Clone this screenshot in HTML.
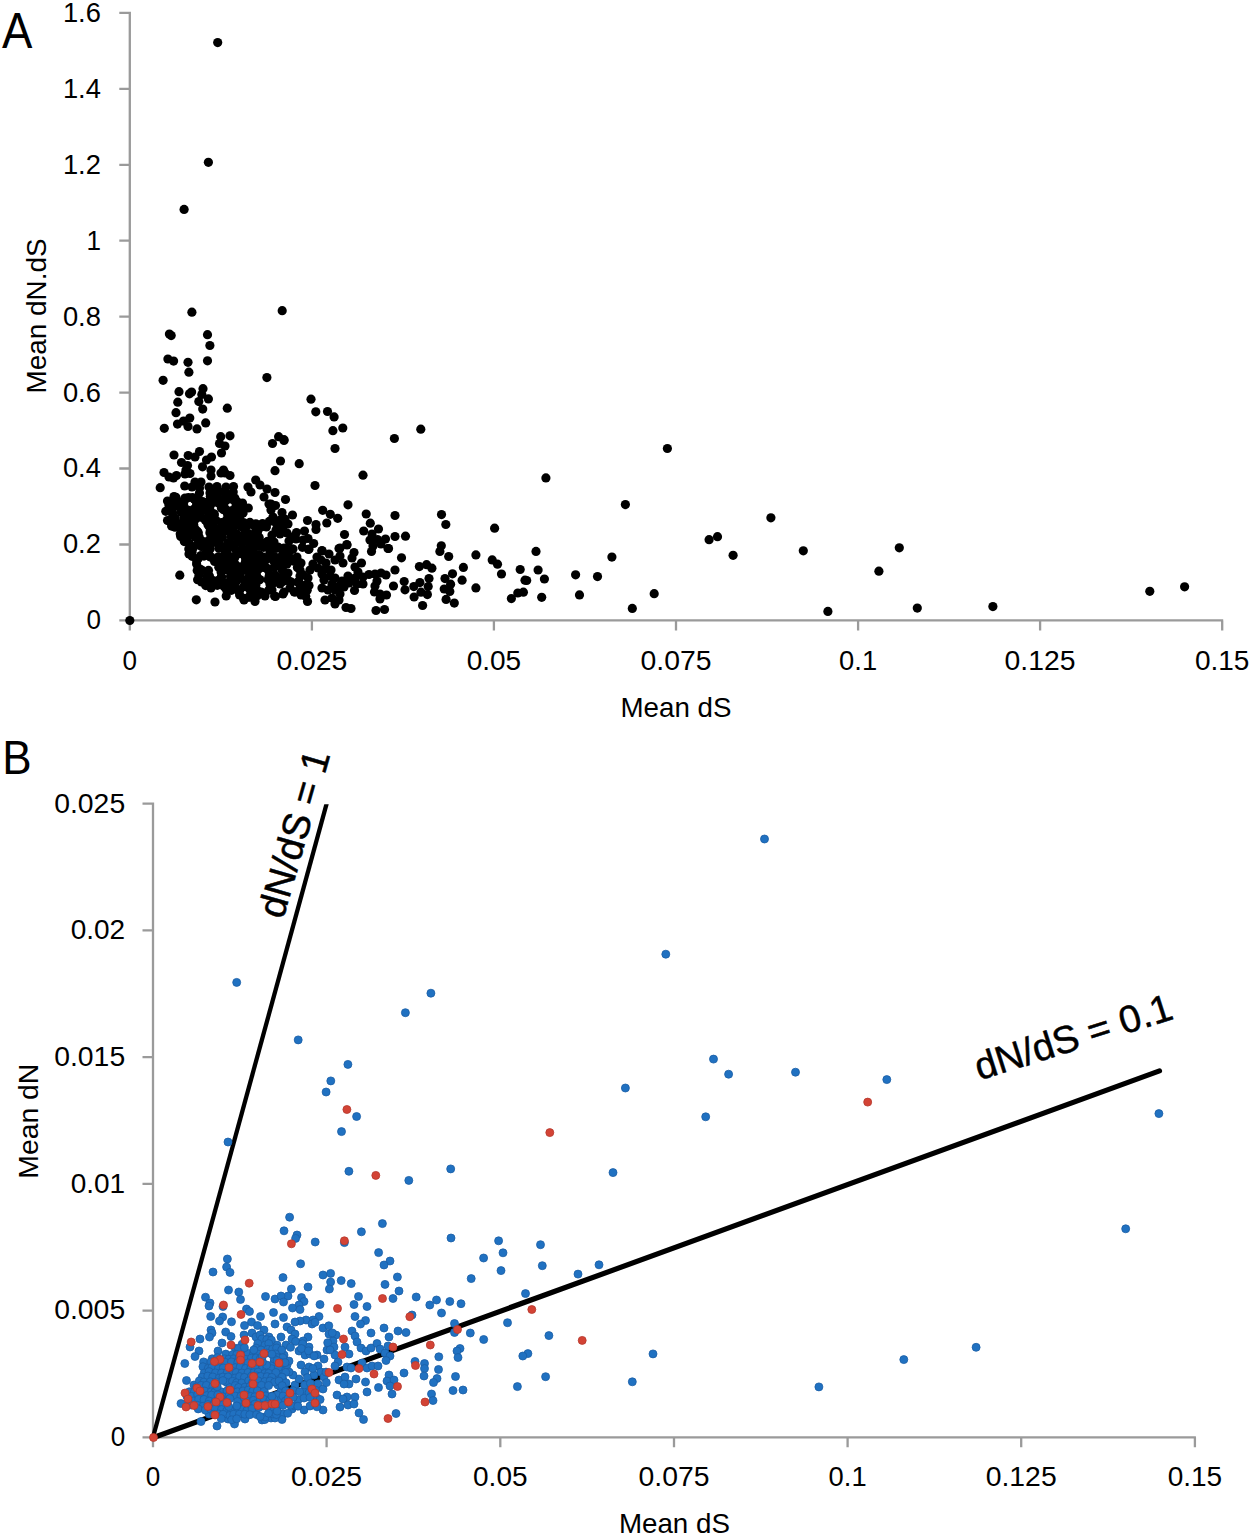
<!DOCTYPE html>
<html lang="en">
<head>
<meta charset="utf-8">
<title>Figure: Mean dN/dS versus Mean dS</title>
<style>
html,body{margin:0;padding:0;background:#fff;}
svg{display:block;}
text{font-family:"Liberation Sans",Arial,sans-serif;fill:#000;}
.ax{stroke:#9a9a9a;stroke-width:2.3;fill:none;stroke-linecap:butt;}
.pa circle{fill:#000;}
.bl circle{fill:#2071c1;stroke:#1b5ea6;stroke-width:0.8;}
.rd circle{fill:#d34335;stroke:#b5382d;stroke-width:0.8;}
</style>
</head>
<body>
<svg width="1250" height="1536" viewBox="0 0 1250 1536">
<rect width="1250" height="1536" fill="#fff"/>
<g id="panelA">
<path class="ax" d="M129.8 11.8 V621.4 M128.8 620.4 H1223.2 M119.3 620.4 H129.8 M119.3 544.5 H129.8 M119.3 468.5 H129.8 M119.3 392.6 H129.8 M119.3 316.6 H129.8 M119.3 240.7 H129.8 M119.3 164.8 H129.8 M119.3 88.8 H129.8 M119.3 12.9 H129.8 M129.8 620.4 V630.4 M311.9 620.4 V630.4 M493.9 620.4 V630.4 M676.0 620.4 V630.4 M858.1 620.4 V630.4 M1040.1 620.4 V630.4 M1222.2 620.4 V630.4"/>
<text x="100.9" y="629.3" font-size="27.5" text-anchor="end" textLength="14.5" lengthAdjust="spacingAndGlyphs">0</text>
<text x="100.9" y="553.4" font-size="27.5" text-anchor="end" textLength="38" lengthAdjust="spacingAndGlyphs">0.2</text>
<text x="100.9" y="477.4" font-size="27.5" text-anchor="end" textLength="38" lengthAdjust="spacingAndGlyphs">0.4</text>
<text x="100.9" y="401.5" font-size="27.5" text-anchor="end" textLength="38" lengthAdjust="spacingAndGlyphs">0.6</text>
<text x="100.9" y="325.5" font-size="27.5" text-anchor="end" textLength="38" lengthAdjust="spacingAndGlyphs">0.8</text>
<text x="100.9" y="249.6" font-size="27.5" text-anchor="end" textLength="14.5" lengthAdjust="spacingAndGlyphs">1</text>
<text x="100.9" y="173.7" font-size="27.5" text-anchor="end" textLength="38" lengthAdjust="spacingAndGlyphs">1.2</text>
<text x="100.9" y="97.7" font-size="27.5" text-anchor="end" textLength="38" lengthAdjust="spacingAndGlyphs">1.4</text>
<text x="100.9" y="21.8" font-size="27.5" text-anchor="end" textLength="38" lengthAdjust="spacingAndGlyphs">1.6</text>
<text x="129.8" y="669.5" font-size="27.5" text-anchor="middle" textLength="14.5" lengthAdjust="spacingAndGlyphs">0</text>
<text x="311.9" y="669.5" font-size="27.5" text-anchor="middle" textLength="71" lengthAdjust="spacingAndGlyphs">0.025</text>
<text x="493.9" y="669.5" font-size="27.5" text-anchor="middle" textLength="54.5" lengthAdjust="spacingAndGlyphs">0.05</text>
<text x="676.0" y="669.5" font-size="27.5" text-anchor="middle" textLength="71" lengthAdjust="spacingAndGlyphs">0.075</text>
<text x="858.1" y="669.5" font-size="27.5" text-anchor="middle" textLength="38" lengthAdjust="spacingAndGlyphs">0.1</text>
<text x="1040.1" y="669.5" font-size="27.5" text-anchor="middle" textLength="71" lengthAdjust="spacingAndGlyphs">0.125</text>
<text x="1222.2" y="669.5" font-size="27.5" text-anchor="middle" textLength="54.5" lengthAdjust="spacingAndGlyphs">0.15</text>
<text x="676" y="716.6" font-size="28" text-anchor="middle" textLength="111" lengthAdjust="spacingAndGlyphs">Mean dS</text>
<text transform="translate(45.8,316) rotate(-90)" font-size="28" text-anchor="middle" textLength="155" lengthAdjust="spacingAndGlyphs">Mean dN.dS</text>
<text x="2" y="47.5" font-size="49.5" text-anchor="start" textLength="30.4" lengthAdjust="spacingAndGlyphs">A</text>
<g class="pa">
<circle cx="667.4" cy="448.5" r="4.6"/><circle cx="545.9" cy="477.9" r="4.6"/><circle cx="625.4" cy="504.6" r="4.6"/><circle cx="770.9" cy="517.8" r="4.6"/><circle cx="717.5" cy="536.7" r="4.6"/><circle cx="709.1" cy="539.7" r="4.6"/><circle cx="733.1" cy="555.3" r="4.6"/><circle cx="803.3" cy="550.8" r="4.6"/><circle cx="611.9" cy="557.1" r="4.6"/><circle cx="536.0" cy="551.4" r="4.6"/><circle cx="538.1" cy="570.0" r="4.6"/><circle cx="544.4" cy="579.0" r="4.6"/><circle cx="526.7" cy="580.5" r="4.6"/><circle cx="575.6" cy="574.8" r="4.6"/><circle cx="597.5" cy="576.6" r="4.6"/><circle cx="579.5" cy="594.9" r="4.6"/><circle cx="541.7" cy="597.3" r="4.6"/><circle cx="654.2" cy="593.7" r="4.6"/><circle cx="632.3" cy="608.4" r="4.6"/><circle cx="827.9" cy="611.4" r="4.6"/><circle cx="899.3" cy="547.8" r="4.6"/><circle cx="878.9" cy="571.2" r="4.6"/><circle cx="917.3" cy="608.1" r="4.6"/><circle cx="992.9" cy="606.6" r="4.6"/><circle cx="1149.8" cy="591.3" r="4.6"/><circle cx="1184.6" cy="586.8" r="4.6"/><circle cx="217.7" cy="42.6" r="4.6"/><circle cx="208.4" cy="162.3" r="4.6"/><circle cx="184.1" cy="209.4" r="4.6"/><circle cx="191.9" cy="312.2" r="4.6"/><circle cx="282.2" cy="310.7" r="4.6"/><circle cx="169.4" cy="334.1" r="4.6"/><circle cx="171.2" cy="335.6" r="4.6"/><circle cx="207.5" cy="334.7" r="4.6"/><circle cx="209.9" cy="345.5" r="4.6"/><circle cx="167.9" cy="359.0" r="4.6"/><circle cx="173.6" cy="361.1" r="4.6"/><circle cx="188.0" cy="362.3" r="4.6"/><circle cx="207.5" cy="360.8" r="4.6"/><circle cx="188.9" cy="372.2" r="4.6"/><circle cx="163.1" cy="380.3" r="4.6"/><circle cx="266.9" cy="377.6" r="4.6"/><circle cx="179.0" cy="391.7" r="4.6"/><circle cx="191.6" cy="392.0" r="4.6"/><circle cx="189.5" cy="393.8" r="4.6"/><circle cx="203.0" cy="388.7" r="4.6"/><circle cx="201.8" cy="394.4" r="4.6"/><circle cx="208.4" cy="398.9" r="4.6"/><circle cx="177.8" cy="402.2" r="4.6"/><circle cx="198.8" cy="401.6" r="4.6"/><circle cx="202.7" cy="409.1" r="4.6"/><circle cx="227.3" cy="408.2" r="4.6"/><circle cx="176.0" cy="412.7" r="4.6"/><circle cx="189.8" cy="418.1" r="4.6"/><circle cx="183.5" cy="421.1" r="4.6"/><circle cx="177.5" cy="424.1" r="4.6"/><circle cx="188.0" cy="426.5" r="4.6"/><circle cx="205.7" cy="422.9" r="4.6"/><circle cx="197.0" cy="428.9" r="4.6"/><circle cx="164.3" cy="428.3" r="4.6"/><circle cx="311.0" cy="399.2" r="4.6"/><circle cx="315.8" cy="411.8" r="4.6"/><circle cx="327.5" cy="411.5" r="4.6"/><circle cx="334.1" cy="416.9" r="4.6"/><circle cx="342.8" cy="428.0" r="4.6"/><circle cx="332.9" cy="430.7" r="4.6"/><circle cx="394.4" cy="438.5" r="4.6"/><circle cx="420.8" cy="429.2" r="4.6"/><circle cx="230.0" cy="435.8" r="4.6"/><circle cx="220.7" cy="436.7" r="4.6"/><circle cx="278.6" cy="436.7" r="4.6"/><circle cx="284.0" cy="439.7" r="4.6"/><circle cx="129.8" cy="620.5" r="4.6"/><circle cx="219.5" cy="443.5" r="4.6"/><circle cx="225.0" cy="446.0" r="4.6"/><circle cx="221.5" cy="453.0" r="4.6"/><circle cx="174.0" cy="455.0" r="4.6"/><circle cx="188.2" cy="455.5" r="4.6"/><circle cx="199.5" cy="451.5" r="4.6"/><circle cx="195.0" cy="457.0" r="4.6"/><circle cx="211.5" cy="457.0" r="4.6"/><circle cx="206.5" cy="460.0" r="4.6"/><circle cx="181.5" cy="462.5" r="4.6"/><circle cx="187.5" cy="465.5" r="4.6"/><circle cx="202.5" cy="466.8" r="4.6"/><circle cx="211.0" cy="470.0" r="4.6"/><circle cx="211.0" cy="476.0" r="4.6"/><circle cx="223.5" cy="470.0" r="4.6"/><circle cx="225.0" cy="473.0" r="4.6"/><circle cx="230.0" cy="475.5" r="4.6"/><circle cx="221.0" cy="473.0" r="4.6"/><circle cx="164.0" cy="472.5" r="4.6"/><circle cx="169.0" cy="477.0" r="4.6"/><circle cx="173.5" cy="478.0" r="4.6"/><circle cx="176.5" cy="475.5" r="4.6"/><circle cx="186.0" cy="470.0" r="4.6"/><circle cx="185.0" cy="474.0" r="4.6"/><circle cx="190.0" cy="473.5" r="4.6"/><circle cx="160.2" cy="487.7" r="4.6"/><circle cx="184.7" cy="486.0" r="4.6"/><circle cx="192.0" cy="487.0" r="4.6"/><circle cx="195.0" cy="482.0" r="4.6"/><circle cx="201.0" cy="482.0" r="4.6"/><circle cx="199.5" cy="488.0" r="4.6"/><circle cx="199.5" cy="493.0" r="4.6"/><circle cx="197.5" cy="497.5" r="4.6"/><circle cx="209.0" cy="487.0" r="4.6"/><circle cx="217.0" cy="486.5" r="4.6"/><circle cx="210.0" cy="493.0" r="4.6"/><circle cx="214.0" cy="496.0" r="4.6"/><circle cx="226.0" cy="487.0" r="4.6"/><circle cx="233.5" cy="486.5" r="4.6"/><circle cx="248.0" cy="487.0" r="4.6"/><circle cx="251.0" cy="492.0" r="4.6"/><circle cx="255.7" cy="480.0" r="4.6"/><circle cx="260.0" cy="485.0" r="4.6"/><circle cx="267.0" cy="489.0" r="4.6"/><circle cx="264.0" cy="497.0" r="4.6"/><circle cx="269.0" cy="504.0" r="4.6"/><circle cx="174.0" cy="496.5" r="4.6"/><circle cx="185.0" cy="498.0" r="4.6"/><circle cx="167.5" cy="501.0" r="4.6"/><circle cx="175.0" cy="504.0" r="4.6"/><circle cx="181.0" cy="504.0" r="4.6"/><circle cx="272.5" cy="443.5" r="4.6"/><circle cx="284.0" cy="440.5" r="4.6"/><circle cx="335.0" cy="448.5" r="4.6"/><circle cx="280.5" cy="461.0" r="4.6"/><circle cx="299.2" cy="463.7" r="4.6"/><circle cx="275.0" cy="470.7" r="4.6"/><circle cx="363.0" cy="475.2" r="4.6"/><circle cx="315.0" cy="485.5" r="4.6"/><circle cx="275.0" cy="492.5" r="4.6"/><circle cx="285.5" cy="499.5" r="4.6"/><circle cx="348.0" cy="504.8" r="4.6"/><circle cx="322.7" cy="510.3" r="4.6"/><circle cx="330.3" cy="514.3" r="4.6"/><circle cx="337.7" cy="518.3" r="4.6"/><circle cx="326.8" cy="523.0" r="4.6"/><circle cx="366.2" cy="514.0" r="4.6"/><circle cx="395.0" cy="515.5" r="4.6"/><circle cx="370.3" cy="523.2" r="4.6"/><circle cx="378.5" cy="529.0" r="4.6"/><circle cx="363.7" cy="531.0" r="4.6"/><circle cx="372.0" cy="534.0" r="4.6"/><circle cx="344.5" cy="534.5" r="4.6"/><circle cx="370.0" cy="540.0" r="4.6"/><circle cx="377.5" cy="539.5" r="4.6"/><circle cx="385.5" cy="539.0" r="4.6"/><circle cx="381.0" cy="544.0" r="4.6"/><circle cx="373.0" cy="546.0" r="4.6"/><circle cx="388.0" cy="548.5" r="4.6"/><circle cx="395.0" cy="536.5" r="4.6"/><circle cx="307.5" cy="520.5" r="4.6"/><circle cx="316.0" cy="524.5" r="4.6"/><circle cx="316.0" cy="529.5" r="4.6"/><circle cx="292.5" cy="515.0" r="4.6"/><circle cx="282.0" cy="512.5" r="4.6"/><circle cx="275.5" cy="505.5" r="4.6"/><circle cx="271.0" cy="504.0" r="4.6"/><circle cx="304.5" cy="531.0" r="4.6"/><circle cx="296.5" cy="532.5" r="4.6"/><circle cx="308.0" cy="538.5" r="4.6"/><circle cx="313.7" cy="543.5" r="4.6"/><circle cx="303.0" cy="540.0" r="4.6"/><circle cx="309.0" cy="549.0" r="4.6"/><circle cx="322.0" cy="550.5" r="4.6"/><circle cx="340.0" cy="548.0" r="4.6"/><circle cx="346.8" cy="544.5" r="4.6"/><circle cx="271.0" cy="510.0" r="4.6"/><circle cx="273.0" cy="517.0" r="4.6"/><circle cx="276.0" cy="523.0" r="4.6"/><circle cx="280.0" cy="520.0" r="4.6"/><circle cx="285.0" cy="519.0" r="4.6"/><circle cx="288.0" cy="524.0" r="4.6"/><circle cx="283.0" cy="527.0" r="4.6"/><circle cx="276.0" cy="530.0" r="4.6"/><circle cx="272.0" cy="535.0" r="4.6"/><circle cx="280.0" cy="534.0" r="4.6"/><circle cx="287.0" cy="533.0" r="4.6"/><circle cx="292.0" cy="537.0" r="4.6"/><circle cx="289.0" cy="541.0" r="4.6"/><circle cx="296.0" cy="539.0" r="4.6"/><circle cx="274.0" cy="542.0" r="4.6"/><circle cx="272.0" cy="548.0" r="4.6"/><circle cx="284.0" cy="548.0" r="4.6"/><circle cx="292.0" cy="549.0" r="4.6"/><circle cx="278.0" cy="547.0" r="4.6"/><circle cx="179.8" cy="575.2" r="4.6"/><circle cx="196.3" cy="599.8" r="4.6"/><circle cx="215.0" cy="602.0" r="4.6"/><circle cx="226.2" cy="596.0" r="4.6"/><circle cx="244.0" cy="600.0" r="4.6"/><circle cx="250.0" cy="597.0" r="4.6"/><circle cx="255.0" cy="601.5" r="4.6"/><circle cx="265.0" cy="596.0" r="4.6"/><circle cx="261.0" cy="592.0" r="4.6"/><circle cx="347.0" cy="545.0" r="4.6"/><circle cx="308.5" cy="549.5" r="4.6"/><circle cx="339.0" cy="548.5" r="4.6"/><circle cx="354.0" cy="552.5" r="4.6"/><circle cx="322.0" cy="551.0" r="4.6"/><circle cx="329.0" cy="554.0" r="4.6"/><circle cx="317.0" cy="557.0" r="4.6"/><circle cx="340.0" cy="556.0" r="4.6"/><circle cx="352.0" cy="558.0" r="4.6"/><circle cx="361.5" cy="563.0" r="4.6"/><circle cx="343.0" cy="563.0" r="4.6"/><circle cx="335.0" cy="560.0" r="4.6"/><circle cx="388.5" cy="548.5" r="4.6"/><circle cx="371.5" cy="551.5" r="4.6"/><circle cx="395.0" cy="570.0" r="4.6"/><circle cx="393.5" cy="586.0" r="4.6"/><circle cx="386.0" cy="575.0" r="4.6"/><circle cx="381.0" cy="573.0" r="4.6"/><circle cx="375.0" cy="574.0" r="4.6"/><circle cx="369.0" cy="574.5" r="4.6"/><circle cx="363.0" cy="577.0" r="4.6"/><circle cx="377.0" cy="581.0" r="4.6"/><circle cx="375.0" cy="586.0" r="4.6"/><circle cx="374.5" cy="592.0" r="4.6"/><circle cx="380.0" cy="594.0" r="4.6"/><circle cx="386.5" cy="595.0" r="4.6"/><circle cx="380.0" cy="599.0" r="4.6"/><circle cx="376.0" cy="610.5" r="4.6"/><circle cx="384.5" cy="609.5" r="4.6"/><circle cx="355.0" cy="567.0" r="4.6"/><circle cx="358.0" cy="572.0" r="4.6"/><circle cx="348.0" cy="576.0" r="4.6"/><circle cx="355.0" cy="578.0" r="4.6"/><circle cx="363.0" cy="584.0" r="4.6"/><circle cx="357.0" cy="584.0" r="4.6"/><circle cx="354.5" cy="590.5" r="4.6"/><circle cx="349.0" cy="583.0" r="4.6"/><circle cx="342.0" cy="581.0" r="4.6"/><circle cx="344.0" cy="587.0" r="4.6"/><circle cx="339.0" cy="586.0" r="4.6"/><circle cx="326.0" cy="563.0" r="4.6"/><circle cx="321.0" cy="560.0" r="4.6"/><circle cx="313.0" cy="564.0" r="4.6"/><circle cx="310.0" cy="570.0" r="4.6"/><circle cx="318.0" cy="568.0" r="4.6"/><circle cx="325.0" cy="569.0" r="4.6"/><circle cx="331.0" cy="570.0" r="4.6"/><circle cx="322.0" cy="574.0" r="4.6"/><circle cx="330.0" cy="576.0" r="4.6"/><circle cx="324.0" cy="580.0" r="4.6"/><circle cx="335.0" cy="578.0" r="4.6"/><circle cx="332.0" cy="584.0" r="4.6"/><circle cx="322.0" cy="588.0" r="4.6"/><circle cx="328.0" cy="590.0" r="4.6"/><circle cx="335.0" cy="590.0" r="4.6"/><circle cx="340.0" cy="594.0" r="4.6"/><circle cx="325.0" cy="600.0" r="4.6"/><circle cx="332.0" cy="598.0" r="4.6"/><circle cx="339.0" cy="600.0" r="4.6"/><circle cx="335.0" cy="604.0" r="4.6"/><circle cx="346.0" cy="607.5" r="4.6"/><circle cx="351.0" cy="608.5" r="4.6"/><circle cx="307.5" cy="601.5" r="4.6"/><circle cx="309.0" cy="585.5" r="4.6"/><circle cx="308.0" cy="578.0" r="4.6"/><circle cx="301.0" cy="563.0" r="4.6"/><circle cx="300.0" cy="570.0" r="4.6"/><circle cx="300.0" cy="576.0" r="4.6"/><circle cx="298.0" cy="582.0" r="4.6"/><circle cx="300.0" cy="588.0" r="4.6"/><circle cx="301.0" cy="595.0" r="4.6"/><circle cx="295.0" cy="592.0" r="4.6"/><circle cx="290.0" cy="588.0" r="4.6"/><circle cx="283.0" cy="594.0" r="4.6"/><circle cx="275.5" cy="596.5" r="4.6"/><circle cx="272.0" cy="590.0" r="4.6"/><circle cx="281.0" cy="559.0" r="4.6"/><circle cx="293.0" cy="559.5" r="4.6"/><circle cx="287.0" cy="564.0" r="4.6"/><circle cx="273.0" cy="560.0" r="4.6"/><circle cx="276.0" cy="566.0" r="4.6"/><circle cx="282.0" cy="570.0" r="4.6"/><circle cx="288.0" cy="573.0" r="4.6"/><circle cx="275.0" cy="575.0" r="4.6"/><circle cx="282.0" cy="578.0" r="4.6"/><circle cx="289.0" cy="581.0" r="4.6"/><circle cx="280.0" cy="584.0" r="4.6"/><circle cx="273.0" cy="583.0" r="4.6"/><circle cx="287.0" cy="549.0" r="4.6"/><circle cx="293.0" cy="549.0" r="4.6"/><circle cx="279.0" cy="548.0" r="4.6"/><circle cx="270.0" cy="552.0" r="4.6"/><circle cx="441.5" cy="514.6" r="4.6"/><circle cx="445.8" cy="524.5" r="4.6"/><circle cx="494.6" cy="528.2" r="4.6"/><circle cx="405.5" cy="536.2" r="4.6"/><circle cx="441.3" cy="545.8" r="4.6"/><circle cx="439.9" cy="551.4" r="4.6"/><circle cx="448.7" cy="556.5" r="4.6"/><circle cx="475.9" cy="554.9" r="4.6"/><circle cx="401.5" cy="557.8" r="4.6"/><circle cx="492.2" cy="559.9" r="4.6"/><circle cx="497.5" cy="564.2" r="4.6"/><circle cx="520.2" cy="569.5" r="4.6"/><circle cx="501.5" cy="574.0" r="4.6"/><circle cx="525.0" cy="580.2" r="4.6"/><circle cx="419.4" cy="566.6" r="4.6"/><circle cx="426.6" cy="564.7" r="4.6"/><circle cx="431.9" cy="568.2" r="4.6"/><circle cx="463.4" cy="567.4" r="4.6"/><circle cx="452.5" cy="573.8" r="4.6"/><circle cx="462.1" cy="580.2" r="4.6"/><circle cx="475.9" cy="587.9" r="4.6"/><circle cx="445.0" cy="578.6" r="4.6"/><circle cx="450.6" cy="584.2" r="4.6"/><circle cx="444.2" cy="589.0" r="4.6"/><circle cx="449.8" cy="591.4" r="4.6"/><circle cx="446.1" cy="599.4" r="4.6"/><circle cx="454.3" cy="603.1" r="4.6"/><circle cx="429.0" cy="578.6" r="4.6"/><circle cx="419.9" cy="582.6" r="4.6"/><circle cx="413.8" cy="586.6" r="4.6"/><circle cx="428.2" cy="586.6" r="4.6"/><circle cx="427.4" cy="594.6" r="4.6"/><circle cx="414.1" cy="597.0" r="4.6"/><circle cx="422.6" cy="605.5" r="4.6"/><circle cx="421.0" cy="592.2" r="4.6"/><circle cx="404.2" cy="581.5" r="4.6"/><circle cx="405.0" cy="589.8" r="4.6"/><circle cx="511.4" cy="598.6" r="4.6"/><circle cx="517.8" cy="593.0" r="4.6"/><circle cx="523.4" cy="592.2" r="4.6"/><circle cx="214.4" cy="492.5" r="4.6"/><circle cx="219.4" cy="491.6" r="4.6"/><circle cx="224.9" cy="492.2" r="4.6"/><circle cx="233.2" cy="491.9" r="4.6"/><circle cx="175.9" cy="497.3" r="4.6"/><circle cx="192.5" cy="497.6" r="4.6"/><circle cx="210.3" cy="496.5" r="4.6"/><circle cx="217.8" cy="498.0" r="4.6"/><circle cx="224.6" cy="498.0" r="4.6"/><circle cx="228.6" cy="496.4" r="4.6"/><circle cx="234.8" cy="498.0" r="4.6"/><circle cx="174.9" cy="502.5" r="4.6"/><circle cx="179.3" cy="502.2" r="4.6"/><circle cx="198.2" cy="502.8" r="4.6"/><circle cx="202.5" cy="501.5" r="4.6"/><circle cx="207.4" cy="502.3" r="4.6"/><circle cx="213.2" cy="500.4" r="4.6"/><circle cx="219.6" cy="500.7" r="4.6"/><circle cx="225.9" cy="500.3" r="4.6"/><circle cx="236.9" cy="501.4" r="4.6"/><circle cx="242.5" cy="503.1" r="4.6"/><circle cx="169.0" cy="505.6" r="4.6"/><circle cx="175.8" cy="506.1" r="4.6"/><circle cx="183.3" cy="505.8" r="4.6"/><circle cx="200.0" cy="505.3" r="4.6"/><circle cx="205.9" cy="508.6" r="4.6"/><circle cx="222.4" cy="507.9" r="4.6"/><circle cx="242.3" cy="508.6" r="4.6"/><circle cx="248.3" cy="508.0" r="4.6"/><circle cx="165.8" cy="511.3" r="4.6"/><circle cx="172.5" cy="512.7" r="4.6"/><circle cx="180.8" cy="511.9" r="4.6"/><circle cx="186.6" cy="513.7" r="4.6"/><circle cx="192.6" cy="511.6" r="4.6"/><circle cx="196.0" cy="511.1" r="4.6"/><circle cx="201.8" cy="511.0" r="4.6"/><circle cx="209.2" cy="513.4" r="4.6"/><circle cx="233.7" cy="513.0" r="4.6"/><circle cx="239.1" cy="512.0" r="4.6"/><circle cx="243.1" cy="513.0" r="4.6"/><circle cx="171.8" cy="518.2" r="4.6"/><circle cx="175.1" cy="518.3" r="4.6"/><circle cx="183.8" cy="517.7" r="4.6"/><circle cx="187.6" cy="517.3" r="4.6"/><circle cx="192.7" cy="515.5" r="4.6"/><circle cx="205.9" cy="518.6" r="4.6"/><circle cx="211.5" cy="518.4" r="4.6"/><circle cx="228.5" cy="517.5" r="4.6"/><circle cx="234.5" cy="516.9" r="4.6"/><circle cx="239.9" cy="518.6" r="4.6"/><circle cx="167.5" cy="520.6" r="4.6"/><circle cx="173.1" cy="521.2" r="4.6"/><circle cx="177.6" cy="523.3" r="4.6"/><circle cx="184.0" cy="522.2" r="4.6"/><circle cx="191.8" cy="522.5" r="4.6"/><circle cx="207.4" cy="522.5" r="4.6"/><circle cx="213.8" cy="521.5" r="4.6"/><circle cx="226.7" cy="523.1" r="4.6"/><circle cx="233.8" cy="522.1" r="4.6"/><circle cx="238.6" cy="522.3" r="4.6"/><circle cx="244.2" cy="522.9" r="4.6"/><circle cx="249.9" cy="522.4" r="4.6"/><circle cx="255.9" cy="523.8" r="4.6"/><circle cx="262.5" cy="523.5" r="4.6"/><circle cx="269.3" cy="521.4" r="4.6"/><circle cx="171.6" cy="526.1" r="4.6"/><circle cx="175.0" cy="527.2" r="4.6"/><circle cx="180.7" cy="526.5" r="4.6"/><circle cx="186.6" cy="528.0" r="4.6"/><circle cx="195.0" cy="528.7" r="4.6"/><circle cx="213.0" cy="529.0" r="4.6"/><circle cx="216.6" cy="528.9" r="4.6"/><circle cx="223.2" cy="527.3" r="4.6"/><circle cx="231.1" cy="528.5" r="4.6"/><circle cx="234.1" cy="527.1" r="4.6"/><circle cx="241.3" cy="526.8" r="4.6"/><circle cx="246.1" cy="526.8" r="4.6"/><circle cx="253.8" cy="525.7" r="4.6"/><circle cx="259.1" cy="527.2" r="4.6"/><circle cx="180.2" cy="534.1" r="4.6"/><circle cx="183.8" cy="531.7" r="4.6"/><circle cx="189.5" cy="533.4" r="4.6"/><circle cx="196.2" cy="531.2" r="4.6"/><circle cx="213.5" cy="533.9" r="4.6"/><circle cx="220.8" cy="533.2" r="4.6"/><circle cx="225.1" cy="531.0" r="4.6"/><circle cx="233.0" cy="532.2" r="4.6"/><circle cx="236.8" cy="534.0" r="4.6"/><circle cx="244.6" cy="533.5" r="4.6"/><circle cx="248.6" cy="533.7" r="4.6"/><circle cx="254.5" cy="533.7" r="4.6"/><circle cx="180.7" cy="536.6" r="4.6"/><circle cx="187.5" cy="536.9" r="4.6"/><circle cx="194.9" cy="536.9" r="4.6"/><circle cx="218.4" cy="537.8" r="4.6"/><circle cx="222.4" cy="537.5" r="4.6"/><circle cx="230.9" cy="536.3" r="4.6"/><circle cx="236.4" cy="537.4" r="4.6"/><circle cx="241.2" cy="538.7" r="4.6"/><circle cx="246.7" cy="537.6" r="4.6"/><circle cx="253.6" cy="539.2" r="4.6"/><circle cx="258.4" cy="538.7" r="4.6"/><circle cx="184.3" cy="541.6" r="4.6"/><circle cx="189.6" cy="543.9" r="4.6"/><circle cx="198.2" cy="543.3" r="4.6"/><circle cx="202.1" cy="541.8" r="4.6"/><circle cx="208.0" cy="542.6" r="4.6"/><circle cx="213.5" cy="542.5" r="4.6"/><circle cx="219.7" cy="544.3" r="4.6"/><circle cx="228.1" cy="542.9" r="4.6"/><circle cx="231.5" cy="544.3" r="4.6"/><circle cx="237.6" cy="542.2" r="4.6"/><circle cx="242.5" cy="542.3" r="4.6"/><circle cx="250.0" cy="542.7" r="4.6"/><circle cx="254.9" cy="542.7" r="4.6"/><circle cx="260.2" cy="541.9" r="4.6"/><circle cx="266.4" cy="542.4" r="4.6"/><circle cx="188.8" cy="549.1" r="4.6"/><circle cx="193.6" cy="547.2" r="4.6"/><circle cx="201.5" cy="546.6" r="4.6"/><circle cx="206.6" cy="548.3" r="4.6"/><circle cx="210.1" cy="549.0" r="4.6"/><circle cx="218.9" cy="548.2" r="4.6"/><circle cx="224.3" cy="548.9" r="4.6"/><circle cx="228.2" cy="547.9" r="4.6"/><circle cx="235.3" cy="549.0" r="4.6"/><circle cx="242.2" cy="548.9" r="4.6"/><circle cx="247.4" cy="549.1" r="4.6"/><circle cx="253.6" cy="548.5" r="4.6"/><circle cx="258.0" cy="546.2" r="4.6"/><circle cx="263.6" cy="547.3" r="4.6"/><circle cx="196.6" cy="504.0" r="4.6"/><circle cx="194.1" cy="509.1" r="4.6"/><circle cx="188.5" cy="510.4" r="4.6"/><circle cx="184.1" cy="506.8" r="4.6"/><circle cx="184.1" cy="501.2" r="4.6"/><circle cx="188.5" cy="497.6" r="4.6"/><circle cx="194.1" cy="498.9" r="4.6"/><circle cx="193.7" cy="524.4" r="4.6"/><circle cx="195.3" cy="519.2" r="4.6"/><circle cx="200.5" cy="517.2" r="4.6"/><circle cx="205.2" cy="519.9" r="4.6"/><circle cx="197.3" cy="531.3" r="4.6"/><circle cx="208.1" cy="525.1" r="4.6"/><circle cx="198.3" cy="532.7" r="4.6"/><circle cx="210.3" cy="530.0" r="4.6"/><circle cx="207.2" cy="541.5" r="4.6"/><circle cx="202.0" cy="541.1" r="4.6"/><circle cx="199.1" cy="536.9" r="4.6"/><circle cx="209.9" cy="532.7" r="4.6"/><circle cx="210.7" cy="537.8" r="4.6"/><circle cx="221.5" cy="522.7" r="4.6"/><circle cx="216.0" cy="520.6" r="4.6"/><circle cx="214.3" cy="515.0" r="4.6"/><circle cx="223.5" cy="509.7" r="4.6"/><circle cx="227.5" cy="514.0" r="4.6"/><circle cx="226.6" cy="519.8" r="4.6"/><circle cx="214.1" cy="513.8" r="4.6"/><circle cx="210.1" cy="510.6" r="4.6"/><circle cx="210.2" cy="505.4" r="4.6"/><circle cx="214.2" cy="502.2" r="4.6"/><circle cx="219.2" cy="503.4" r="4.6"/><circle cx="221.4" cy="508.0" r="4.6"/><circle cx="226.9" cy="510.3" r="4.6"/><circle cx="223.9" cy="505.9" r="4.6"/><circle cx="225.5" cy="500.8" r="4.6"/><circle cx="230.5" cy="498.9" r="4.6"/><circle cx="235.1" cy="501.6" r="4.6"/><circle cx="235.9" cy="506.8" r="4.6"/><circle cx="232.2" cy="510.7" r="4.6"/><circle cx="259.2" cy="537.4" r="4.6"/><circle cx="257.5" cy="532.0" r="4.6"/><circle cx="260.8" cy="527.3" r="4.6"/><circle cx="266.4" cy="526.9" r="4.6"/><circle cx="267.5" cy="541.4" r="4.6"/><circle cx="192.1" cy="552.1" r="4.6"/><circle cx="189.0" cy="553.9" r="4.6"/><circle cx="192.1" cy="556.3" r="4.6"/><circle cx="200.9" cy="555.5" r="4.6"/><circle cx="205.7" cy="553.8" r="4.6"/><circle cx="211.0" cy="557.0" r="4.6"/><circle cx="218.4" cy="556.8" r="4.6"/><circle cx="224.8" cy="554.7" r="4.6"/><circle cx="227.7" cy="554.4" r="4.6"/><circle cx="235.0" cy="556.2" r="4.6"/><circle cx="247.3" cy="556.4" r="4.6"/><circle cx="252.5" cy="555.7" r="4.6"/><circle cx="257.0" cy="556.5" r="4.6"/><circle cx="263.5" cy="557.0" r="4.6"/><circle cx="196.7" cy="560.9" r="4.6"/><circle cx="221.8" cy="561.1" r="4.6"/><circle cx="227.4" cy="560.6" r="4.6"/><circle cx="231.1" cy="559.8" r="4.6"/><circle cx="249.7" cy="561.2" r="4.6"/><circle cx="255.3" cy="559.8" r="4.6"/><circle cx="262.1" cy="562.1" r="4.6"/><circle cx="266.5" cy="559.1" r="4.6"/><circle cx="223.1" cy="564.7" r="4.6"/><circle cx="228.1" cy="565.5" r="4.6"/><circle cx="235.5" cy="567.3" r="4.6"/><circle cx="245.8" cy="567.4" r="4.6"/><circle cx="251.4" cy="564.2" r="4.6"/><circle cx="257.1" cy="565.4" r="4.6"/><circle cx="265.8" cy="567.1" r="4.6"/><circle cx="197.2" cy="570.5" r="4.6"/><circle cx="202.1" cy="570.3" r="4.6"/><circle cx="221.7" cy="569.6" r="4.6"/><circle cx="227.7" cy="569.9" r="4.6"/><circle cx="231.5" cy="572.0" r="4.6"/><circle cx="239.0" cy="570.6" r="4.6"/><circle cx="242.3" cy="570.8" r="4.6"/><circle cx="249.3" cy="572.3" r="4.6"/><circle cx="254.6" cy="570.4" r="4.6"/><circle cx="199.0" cy="575.2" r="4.6"/><circle cx="207.0" cy="576.4" r="4.6"/><circle cx="221.5" cy="576.9" r="4.6"/><circle cx="230.5" cy="576.4" r="4.6"/><circle cx="236.5" cy="574.4" r="4.6"/><circle cx="239.9" cy="575.9" r="4.6"/><circle cx="248.3" cy="577.5" r="4.6"/><circle cx="252.3" cy="575.1" r="4.6"/><circle cx="197.6" cy="579.7" r="4.6"/><circle cx="201.5" cy="582.0" r="4.6"/><circle cx="207.5" cy="579.6" r="4.6"/><circle cx="212.7" cy="581.3" r="4.6"/><circle cx="219.6" cy="582.7" r="4.6"/><circle cx="227.4" cy="582.8" r="4.6"/><circle cx="231.2" cy="579.7" r="4.6"/><circle cx="236.5" cy="581.1" r="4.6"/><circle cx="244.5" cy="580.9" r="4.6"/><circle cx="248.8" cy="580.8" r="4.6"/><circle cx="256.0" cy="581.7" r="4.6"/><circle cx="268.0" cy="579.8" r="4.6"/><circle cx="205.7" cy="585.6" r="4.6"/><circle cx="211.0" cy="587.9" r="4.6"/><circle cx="217.3" cy="585.3" r="4.6"/><circle cx="224.2" cy="586.7" r="4.6"/><circle cx="230.7" cy="584.9" r="4.6"/><circle cx="234.9" cy="587.3" r="4.6"/><circle cx="245.2" cy="585.5" r="4.6"/><circle cx="251.4" cy="585.1" r="4.6"/><circle cx="226.7" cy="590.2" r="4.6"/><circle cx="231.4" cy="590.3" r="4.6"/><circle cx="238.9" cy="591.5" r="4.6"/><circle cx="256.1" cy="589.9" r="4.6"/><circle cx="252.2" cy="596.4" r="4.6"/><circle cx="257.3" cy="595.7" r="4.6"/><circle cx="200.0" cy="569.0" r="4.6"/><circle cx="196.6" cy="564.0" r="4.6"/><circle cx="198.4" cy="558.3" r="4.6"/><circle cx="204.0" cy="556.1" r="4.6"/><circle cx="208.5" cy="570.4" r="4.6"/><circle cx="210.5" cy="557.0" r="4.6"/><circle cx="214.6" cy="561.5" r="4.6"/><circle cx="218.8" cy="567.2" r="4.6"/><circle cx="221.1" cy="572.0" r="4.6"/><circle cx="217.7" cy="580.7" r="4.6"/><circle cx="212.4" cy="580.3" r="4.6"/><circle cx="209.4" cy="575.9" r="4.6"/><circle cx="221.4" cy="576.8" r="4.6"/><circle cx="252.6" cy="553.5" r="4.6"/><circle cx="253.9" cy="554.3" r="4.6"/><circle cx="259.2" cy="554.7" r="4.6"/><circle cx="234.5" cy="558.1" r="4.6"/><circle cx="237.3" cy="554.2" r="4.6"/><circle cx="242.1" cy="553.8" r="4.6"/><circle cx="245.3" cy="557.4" r="4.6"/><circle cx="235.0" cy="563.9" r="4.6"/><circle cx="245.5" cy="561.5" r="4.6"/><circle cx="243.4" cy="565.9" r="4.6"/><circle cx="238.7" cy="566.9" r="4.6"/><circle cx="256.5" cy="574.9" r="4.6"/><circle cx="258.2" cy="569.5" r="4.6"/><circle cx="263.5" cy="567.5" r="4.6"/><circle cx="268.4" cy="570.4" r="4.6"/><circle cx="269.2" cy="576.0" r="4.6"/><circle cx="259.7" cy="579.6" r="4.6"/><circle cx="255.9" cy="584.9" r="4.6"/><circle cx="259.5" cy="579.8" r="4.6"/><circle cx="269.9" cy="584.0" r="4.6"/><circle cx="268.9" cy="590.1" r="4.6"/><circle cx="263.5" cy="593.1" r="4.6"/><circle cx="257.7" cy="590.8" r="4.6"/><circle cx="239.7" cy="589.9" r="4.6"/><circle cx="243.7" cy="586.7" r="4.6"/><circle cx="248.8" cy="587.9" r="4.6"/><circle cx="250.9" cy="592.6" r="4.6"/><circle cx="248.7" cy="597.2" r="4.6"/><circle cx="243.6" cy="598.3" r="4.6"/><circle cx="239.6" cy="595.0" r="4.6"/><circle cx="270.1" cy="549.0" r="4.6"/><circle cx="276.0" cy="548.3" r="4.6"/><circle cx="286.7" cy="551.4" r="4.6"/><circle cx="291.2" cy="549.8" r="4.6"/><circle cx="302.4" cy="547.3" r="4.6"/><circle cx="274.4" cy="556.5" r="4.6"/><circle cx="282.3" cy="555.3" r="4.6"/><circle cx="289.1" cy="556.7" r="4.6"/><circle cx="296.9" cy="557.0" r="4.6"/><circle cx="279.1" cy="564.4" r="4.6"/><circle cx="285.4" cy="561.5" r="4.6"/><circle cx="293.3" cy="561.1" r="4.6"/><circle cx="299.4" cy="562.7" r="4.6"/><circle cx="273.9" cy="567.6" r="4.6"/><circle cx="282.4" cy="567.8" r="4.6"/><circle cx="297.4" cy="567.6" r="4.6"/><circle cx="278.9" cy="578.0" r="4.6"/><circle cx="284.1" cy="578.8" r="4.6"/><circle cx="303.2" cy="574.9" r="4.6"/><circle cx="282.9" cy="581.6" r="4.6"/><circle cx="291.4" cy="582.2" r="4.6"/><circle cx="298.8" cy="581.6" r="4.6"/><circle cx="305.1" cy="585.3" r="4.6"/><circle cx="270.0" cy="589.2" r="4.6"/><circle cx="284.0" cy="592.1" r="4.6"/><circle cx="294.3" cy="591.9" r="4.6"/><circle cx="299.6" cy="591.4" r="4.6"/><circle cx="307.2" cy="590.2" r="4.6"/><circle cx="274.6" cy="596.1" r="4.6"/><circle cx="305.7" cy="596.3" r="4.6"/>
</g>
</g>
<g id="panelB">
<path class="ax" d="M153.0 802.6 V1438.3 M152.0 1437.3 H1195.9 M142.5 1437.3 H153.0 M142.5 1310.6 H153.0 M142.5 1183.9 H153.0 M142.5 1057.1 H153.0 M142.5 930.4 H153.0 M142.5 803.7 H153.0 M153.0 1437.3 V1447.3 M326.6 1437.3 V1447.3 M500.3 1437.3 V1447.3 M674.0 1437.3 V1447.3 M847.6 1437.3 V1447.3 M1021.2 1437.3 V1447.3 M1194.9 1437.3 V1447.3"/>
<text x="125.2" y="1446.1" font-size="27.5" text-anchor="end" textLength="14.5" lengthAdjust="spacingAndGlyphs">0</text>
<text x="125.2" y="1319.4" font-size="27.5" text-anchor="end" textLength="71" lengthAdjust="spacingAndGlyphs">0.005</text>
<text x="125.2" y="1192.7" font-size="27.5" text-anchor="end" textLength="54.5" lengthAdjust="spacingAndGlyphs">0.01</text>
<text x="125.2" y="1065.9" font-size="27.5" text-anchor="end" textLength="71" lengthAdjust="spacingAndGlyphs">0.015</text>
<text x="125.2" y="939.2" font-size="27.5" text-anchor="end" textLength="54.5" lengthAdjust="spacingAndGlyphs">0.02</text>
<text x="125.2" y="812.5" font-size="27.5" text-anchor="end" textLength="71" lengthAdjust="spacingAndGlyphs">0.025</text>
<text x="153.0" y="1486" font-size="27.5" text-anchor="middle" textLength="14.5" lengthAdjust="spacingAndGlyphs">0</text>
<text x="326.6" y="1486" font-size="27.5" text-anchor="middle" textLength="71" lengthAdjust="spacingAndGlyphs">0.025</text>
<text x="500.3" y="1486" font-size="27.5" text-anchor="middle" textLength="54.5" lengthAdjust="spacingAndGlyphs">0.05</text>
<text x="674.0" y="1486" font-size="27.5" text-anchor="middle" textLength="71" lengthAdjust="spacingAndGlyphs">0.075</text>
<text x="847.6" y="1486" font-size="27.5" text-anchor="middle" textLength="38" lengthAdjust="spacingAndGlyphs">0.1</text>
<text x="1021.2" y="1486" font-size="27.5" text-anchor="middle" textLength="71" lengthAdjust="spacingAndGlyphs">0.125</text>
<text x="1194.9" y="1486" font-size="27.5" text-anchor="middle" textLength="54.5" lengthAdjust="spacingAndGlyphs">0.15</text>
<text x="674.4" y="1532.7" font-size="28" text-anchor="middle" textLength="111" lengthAdjust="spacingAndGlyphs">Mean dS</text>
<text transform="translate(37.7,1121.2) rotate(-90)" font-size="28" text-anchor="middle" textLength="115" lengthAdjust="spacingAndGlyphs">Mean dN</text>
<text x="2.3" y="773.5" font-size="48.5" text-anchor="start" textLength="29.4" lengthAdjust="spacingAndGlyphs">B</text>
<clipPath id="clipB"><rect x="150" y="804.3" width="1100" height="700"/></clipPath>
<g clip-path="url(#clipB)" stroke="#000" fill="none">
<path stroke-width="4.3" d="M153.0 1437.3 L344.0 740.3"/>
<path stroke-width="5.2" d="M153.0 1437.8 L1159.5 1070.9" stroke-linecap="round"/>
</g>
<g class="bl">
<circle cx="236.7" cy="982.4" r="4"/><circle cx="430.9" cy="993.2" r="4"/><circle cx="405.4" cy="1012.7" r="4"/><circle cx="298.2" cy="1039.9" r="4"/><circle cx="347.9" cy="1064.4" r="4"/><circle cx="330.8" cy="1080.9" r="4"/><circle cx="326.1" cy="1092.0" r="4"/><circle cx="356.6" cy="1116.5" r="4"/><circle cx="341.5" cy="1131.6" r="4"/><circle cx="228.0" cy="1142.0" r="4"/><circle cx="348.9" cy="1171.3" r="4"/><circle cx="450.7" cy="1168.9" r="4"/><circle cx="764.5" cy="839.0" r="4"/><circle cx="665.8" cy="954.2" r="4"/><circle cx="713.5" cy="1059.1" r="4"/><circle cx="728.6" cy="1074.2" r="4"/><circle cx="795.5" cy="1072.2" r="4"/><circle cx="886.8" cy="1079.6" r="4"/><circle cx="625.4" cy="1088.0" r="4"/><circle cx="705.7" cy="1116.8" r="4"/><circle cx="613.0" cy="1172.6" r="4"/><circle cx="1158.9" cy="1113.6" r="4"/><circle cx="1125.7" cy="1228.8" r="4"/><circle cx="540.5" cy="1244.7" r="4"/><circle cx="503.0" cy="1252.8" r="4"/><circle cx="542.3" cy="1265.7" r="4"/><circle cx="599.0" cy="1264.8" r="4"/><circle cx="578.0" cy="1274.1" r="4"/><circle cx="525.5" cy="1293.6" r="4"/><circle cx="507.5" cy="1322.7" r="4"/><circle cx="548.9" cy="1335.6" r="4"/><circle cx="527.9" cy="1353.6" r="4"/><circle cx="522.8" cy="1356.0" r="4"/><circle cx="653.0" cy="1353.9" r="4"/><circle cx="545.6" cy="1376.7" r="4"/><circle cx="517.4" cy="1386.6" r="4"/><circle cx="632.3" cy="1381.8" r="4"/><circle cx="818.9" cy="1386.9" r="4"/><circle cx="976.1" cy="1347.3" r="4"/><circle cx="903.8" cy="1359.6" r="4"/><circle cx="289.6" cy="1217.2" r="4"/><circle cx="284.0" cy="1230.8" r="4"/><circle cx="297.0" cy="1235.0" r="4"/><circle cx="295.6" cy="1238.4" r="4"/><circle cx="315.2" cy="1242.0" r="4"/><circle cx="344.4" cy="1242.6" r="4"/><circle cx="361.4" cy="1231.8" r="4"/><circle cx="382.4" cy="1223.6" r="4"/><circle cx="378.6" cy="1252.6" r="4"/><circle cx="390.0" cy="1261.0" r="4"/><circle cx="384.0" cy="1265.0" r="4"/><circle cx="397.4" cy="1277.0" r="4"/><circle cx="385.0" cy="1284.4" r="4"/><circle cx="227.4" cy="1259.0" r="4"/><circle cx="226.6" cy="1267.0" r="4"/><circle cx="230.0" cy="1272.4" r="4"/><circle cx="213.0" cy="1272.0" r="4"/><circle cx="300.6" cy="1263.8" r="4"/><circle cx="283.0" cy="1277.6" r="4"/><circle cx="323.0" cy="1275.0" r="4"/><circle cx="330.6" cy="1273.4" r="4"/><circle cx="330.6" cy="1282.0" r="4"/><circle cx="329.4" cy="1289.0" r="4"/><circle cx="341.2" cy="1280.6" r="4"/><circle cx="351.2" cy="1283.6" r="4"/><circle cx="308.0" cy="1287.0" r="4"/><circle cx="291.4" cy="1289.0" r="4"/><circle cx="408.8" cy="1180.4" r="4"/><circle cx="451.0" cy="1238.0" r="4"/><circle cx="498.6" cy="1240.8" r="4"/><circle cx="483.6" cy="1258.0" r="4"/><circle cx="471.2" cy="1278.6" r="4"/><circle cx="501.0" cy="1270.6" r="4"/><circle cx="228.5" cy="1290.0" r="4"/><circle cx="238.8" cy="1292.0" r="4"/><circle cx="240.5" cy="1299.5" r="4"/><circle cx="265.5" cy="1296.5" r="4"/><circle cx="275.0" cy="1299.0" r="4"/><circle cx="205.5" cy="1297.2" r="4"/><circle cx="210.0" cy="1303.0" r="4"/><circle cx="209.0" cy="1306.0" r="4"/><circle cx="223.0" cy="1306.5" r="4"/><circle cx="246.5" cy="1309.0" r="4"/><circle cx="249.5" cy="1311.5" r="4"/><circle cx="260.5" cy="1316.5" r="4"/><circle cx="273.5" cy="1312.5" r="4"/><circle cx="210.7" cy="1316.5" r="4"/><circle cx="222.7" cy="1317.0" r="4"/><circle cx="219.5" cy="1321.0" r="4"/><circle cx="231.5" cy="1321.8" r="4"/><circle cx="251.5" cy="1322.0" r="4"/><circle cx="244.5" cy="1325.5" r="4"/><circle cx="257.5" cy="1325.5" r="4"/><circle cx="264.0" cy="1330.0" r="4"/><circle cx="275.0" cy="1324.0" r="4"/><circle cx="211.0" cy="1330.0" r="4"/><circle cx="212.0" cy="1333.0" r="4"/><circle cx="209.5" cy="1337.0" r="4"/><circle cx="225.7" cy="1332.0" r="4"/><circle cx="231.0" cy="1336.5" r="4"/><circle cx="222.0" cy="1343.0" r="4"/><circle cx="244.0" cy="1335.0" r="4"/><circle cx="252.0" cy="1333.0" r="4"/><circle cx="256.0" cy="1337.0" r="4"/><circle cx="260.0" cy="1335.0" r="4"/><circle cx="269.0" cy="1337.0" r="4"/><circle cx="200.0" cy="1339.0" r="4"/><circle cx="190.0" cy="1347.0" r="4"/><circle cx="199.0" cy="1351.0" r="4"/><circle cx="195.0" cy="1356.5" r="4"/><circle cx="218.0" cy="1351.0" r="4"/><circle cx="184.8" cy="1363.5" r="4"/><circle cx="186.5" cy="1380.5" r="4"/><circle cx="194.0" cy="1385.0" r="4"/><circle cx="181.0" cy="1403.5" r="4"/><circle cx="201.0" cy="1421.5" r="4"/><circle cx="217.0" cy="1426.0" r="4"/><circle cx="234.5" cy="1424.0" r="4"/><circle cx="228.0" cy="1419.0" r="4"/><circle cx="245.0" cy="1419.0" r="4"/><circle cx="262.0" cy="1420.0" r="4"/><circle cx="271.0" cy="1418.0" r="4"/><circle cx="209.0" cy="1414.0" r="4"/><circle cx="399.0" cy="1291.0" r="4"/><circle cx="358.5" cy="1296.5" r="4"/><circle cx="393.0" cy="1298.5" r="4"/><circle cx="354.0" cy="1304.5" r="4"/><circle cx="367.0" cy="1306.5" r="4"/><circle cx="320.0" cy="1304.5" r="4"/><circle cx="301.5" cy="1297.5" r="4"/><circle cx="304.0" cy="1301.5" r="4"/><circle cx="299.0" cy="1305.0" r="4"/><circle cx="292.5" cy="1308.0" r="4"/><circle cx="300.0" cy="1309.5" r="4"/><circle cx="288.0" cy="1296.0" r="4"/><circle cx="281.0" cy="1296.0" r="4"/><circle cx="283.5" cy="1302.0" r="4"/><circle cx="283.5" cy="1317.5" r="4"/><circle cx="355.0" cy="1316.5" r="4"/><circle cx="365.5" cy="1320.5" r="4"/><circle cx="360.5" cy="1324.0" r="4"/><circle cx="384.0" cy="1328.0" r="4"/><circle cx="398.0" cy="1331.0" r="4"/><circle cx="389.0" cy="1337.0" r="4"/><circle cx="371.0" cy="1333.0" r="4"/><circle cx="319.0" cy="1316.5" r="4"/><circle cx="313.0" cy="1320.0" r="4"/><circle cx="306.0" cy="1320.0" r="4"/><circle cx="300.0" cy="1321.0" r="4"/><circle cx="295.0" cy="1322.0" r="4"/><circle cx="312.0" cy="1324.0" r="4"/><circle cx="287.0" cy="1327.0" r="4"/><circle cx="291.0" cy="1330.0" r="4"/><circle cx="295.0" cy="1334.0" r="4"/><circle cx="281.0" cy="1337.0" r="4"/><circle cx="292.0" cy="1339.0" r="4"/><circle cx="286.0" cy="1345.0" r="4"/><circle cx="277.0" cy="1345.0" r="4"/><circle cx="323.0" cy="1328.0" r="4"/><circle cx="329.0" cy="1334.0" r="4"/><circle cx="336.0" cy="1335.0" r="4"/><circle cx="333.0" cy="1341.0" r="4"/><circle cx="334.0" cy="1347.0" r="4"/><circle cx="327.0" cy="1350.0" r="4"/><circle cx="335.0" cy="1355.0" r="4"/><circle cx="338.0" cy="1362.0" r="4"/><circle cx="335.0" cy="1366.0" r="4"/><circle cx="352.0" cy="1331.0" r="4"/><circle cx="355.0" cy="1336.0" r="4"/><circle cx="357.0" cy="1342.0" r="4"/><circle cx="361.0" cy="1348.0" r="4"/><circle cx="366.0" cy="1351.0" r="4"/><circle cx="371.0" cy="1348.0" r="4"/><circle cx="377.0" cy="1343.5" r="4"/><circle cx="380.0" cy="1349.0" r="4"/><circle cx="385.0" cy="1353.0" r="4"/><circle cx="388.0" cy="1346.0" r="4"/><circle cx="390.0" cy="1356.0" r="4"/><circle cx="386.0" cy="1360.5" r="4"/><circle cx="308.0" cy="1337.0" r="4"/><circle cx="303.0" cy="1341.0" r="4"/><circle cx="309.0" cy="1347.0" r="4"/><circle cx="299.0" cy="1351.0" r="4"/><circle cx="305.0" cy="1355.0" r="4"/><circle cx="310.0" cy="1354.0" r="4"/><circle cx="317.0" cy="1355.0" r="4"/><circle cx="324.0" cy="1359.0" r="4"/><circle cx="301.0" cy="1365.0" r="4"/><circle cx="309.0" cy="1367.0" r="4"/><circle cx="318.0" cy="1366.0" r="4"/><circle cx="305.0" cy="1372.0" r="4"/><circle cx="314.0" cy="1375.0" r="4"/><circle cx="321.0" cy="1372.0" r="4"/><circle cx="324.0" cy="1377.0" r="4"/><circle cx="318.0" cy="1384.0" r="4"/><circle cx="323.0" cy="1389.0" r="4"/><circle cx="305.0" cy="1391.0" r="4"/><circle cx="295.0" cy="1385.0" r="4"/><circle cx="299.0" cy="1379.0" r="4"/><circle cx="293.0" cy="1375.0" r="4"/><circle cx="345.0" cy="1347.0" r="4"/><circle cx="349.0" cy="1354.0" r="4"/><circle cx="347.0" cy="1367.0" r="4"/><circle cx="351.0" cy="1368.0" r="4"/><circle cx="362.0" cy="1363.0" r="4"/><circle cx="367.0" cy="1368.0" r="4"/><circle cx="372.0" cy="1366.0" r="4"/><circle cx="378.0" cy="1366.0" r="4"/><circle cx="339.0" cy="1380.0" r="4"/><circle cx="345.0" cy="1377.0" r="4"/><circle cx="349.0" cy="1384.0" r="4"/><circle cx="344.0" cy="1384.0" r="4"/><circle cx="356.0" cy="1379.0" r="4"/><circle cx="365.5" cy="1382.0" r="4"/><circle cx="378.5" cy="1387.5" r="4"/><circle cx="367.0" cy="1392.0" r="4"/><circle cx="389.0" cy="1375.0" r="4"/><circle cx="387.0" cy="1381.0" r="4"/><circle cx="394.0" cy="1380.0" r="4"/><circle cx="390.0" cy="1386.0" r="4"/><circle cx="392.0" cy="1394.0" r="4"/><circle cx="337.0" cy="1395.0" r="4"/><circle cx="347.0" cy="1397.0" r="4"/><circle cx="355.0" cy="1397.0" r="4"/><circle cx="278.0" cy="1353.0" r="4"/><circle cx="284.0" cy="1355.0" r="4"/><circle cx="281.0" cy="1370.0" r="4"/><circle cx="287.0" cy="1365.0" r="4"/><circle cx="289.0" cy="1372.0" r="4"/><circle cx="277.0" cy="1375.0" r="4"/><circle cx="283.0" cy="1380.0" r="4"/><circle cx="278.0" cy="1385.0" r="4"/><circle cx="281.0" cy="1391.0" r="4"/><circle cx="277.0" cy="1395.0" r="4"/><circle cx="289.0" cy="1361.0" r="4"/><circle cx="416.2" cy="1297.0" r="4"/><circle cx="436.5" cy="1300.0" r="4"/><circle cx="429.8" cy="1305.0" r="4"/><circle cx="449.8" cy="1301.5" r="4"/><circle cx="461.0" cy="1303.7" r="4"/><circle cx="441.5" cy="1313.0" r="4"/><circle cx="412.0" cy="1315.0" r="4"/><circle cx="454.5" cy="1323.5" r="4"/><circle cx="454.5" cy="1332.5" r="4"/><circle cx="470.3" cy="1333.0" r="4"/><circle cx="483.7" cy="1339.5" r="4"/><circle cx="406.0" cy="1332.5" r="4"/><circle cx="460.0" cy="1348.5" r="4"/><circle cx="457.0" cy="1351.0" r="4"/><circle cx="458.0" cy="1357.5" r="4"/><circle cx="438.8" cy="1356.8" r="4"/><circle cx="415.0" cy="1361.5" r="4"/><circle cx="424.5" cy="1363.5" r="4"/><circle cx="424.5" cy="1368.5" r="4"/><circle cx="424.0" cy="1376.0" r="4"/><circle cx="438.5" cy="1369.5" r="4"/><circle cx="455.5" cy="1376.5" r="4"/><circle cx="437.0" cy="1378.5" r="4"/><circle cx="433.5" cy="1382.5" r="4"/><circle cx="404.0" cy="1373.0" r="4"/><circle cx="431.5" cy="1394.0" r="4"/><circle cx="453.0" cy="1390.5" r="4"/><circle cx="463.0" cy="1390.0" r="4"/><circle cx="343.0" cy="1399.0" r="4"/><circle cx="340.0" cy="1407.0" r="4"/><circle cx="348.0" cy="1405.0" r="4"/><circle cx="354.0" cy="1404.0" r="4"/><circle cx="359.0" cy="1413.0" r="4"/><circle cx="363.5" cy="1419.5" r="4"/><circle cx="396.0" cy="1413.5" r="4"/><circle cx="323.0" cy="1410.0" r="4"/><circle cx="304.0" cy="1410.0" r="4"/><circle cx="310.0" cy="1406.0" r="4"/><circle cx="292.0" cy="1409.0" r="4"/><circle cx="283.0" cy="1414.0" r="4"/><circle cx="282.0" cy="1419.5" r="4"/><circle cx="275.0" cy="1418.0" r="4"/><circle cx="277.0" cy="1408.0" r="4"/><circle cx="298.0" cy="1400.0" r="4"/><circle cx="304.0" cy="1398.0" r="4"/><circle cx="281.0" cy="1400.0" r="4"/><circle cx="295.0" cy="1406.0" r="4"/><circle cx="317.0" cy="1398.0" r="4"/><circle cx="433.0" cy="1400.5" r="4"/><circle cx="262.0" cy="1338.9" r="4"/><circle cx="266.8" cy="1339.6" r="4"/><circle cx="271.4" cy="1340.2" r="4"/><circle cx="242.1" cy="1344.2" r="4"/><circle cx="257.8" cy="1343.5" r="4"/><circle cx="265.0" cy="1345.1" r="4"/><circle cx="268.8" cy="1343.6" r="4"/><circle cx="235.3" cy="1348.3" r="4"/><circle cx="238.5" cy="1348.5" r="4"/><circle cx="256.1" cy="1348.1" r="4"/><circle cx="261.0" cy="1350.0" r="4"/><circle cx="267.9" cy="1349.4" r="4"/><circle cx="272.6" cy="1349.2" r="4"/><circle cx="276.6" cy="1347.9" r="4"/><circle cx="281.7" cy="1350.0" r="4"/><circle cx="225.8" cy="1354.1" r="4"/><circle cx="232.6" cy="1354.6" r="4"/><circle cx="236.8" cy="1354.4" r="4"/><circle cx="243.3" cy="1353.9" r="4"/><circle cx="248.1" cy="1353.4" r="4"/><circle cx="253.4" cy="1354.0" r="4"/><circle cx="257.6" cy="1354.0" r="4"/><circle cx="275.4" cy="1353.9" r="4"/><circle cx="212.2" cy="1358.8" r="4"/><circle cx="217.4" cy="1357.6" r="4"/><circle cx="224.5" cy="1358.8" r="4"/><circle cx="228.8" cy="1359.3" r="4"/><circle cx="233.9" cy="1358.8" r="4"/><circle cx="239.0" cy="1358.2" r="4"/><circle cx="245.8" cy="1359.4" r="4"/><circle cx="251.4" cy="1358.1" r="4"/><circle cx="256.1" cy="1357.9" r="4"/><circle cx="260.4" cy="1358.4" r="4"/><circle cx="277.0" cy="1357.6" r="4"/><circle cx="282.8" cy="1357.8" r="4"/><circle cx="203.6" cy="1361.9" r="4"/><circle cx="210.9" cy="1362.0" r="4"/><circle cx="215.9" cy="1363.2" r="4"/><circle cx="220.3" cy="1363.8" r="4"/><circle cx="225.0" cy="1362.2" r="4"/><circle cx="231.5" cy="1361.9" r="4"/><circle cx="237.8" cy="1362.4" r="4"/><circle cx="241.5" cy="1362.0" r="4"/><circle cx="248.1" cy="1362.9" r="4"/><circle cx="253.5" cy="1363.4" r="4"/><circle cx="259.3" cy="1364.2" r="4"/><circle cx="273.6" cy="1363.0" r="4"/><circle cx="280.7" cy="1362.3" r="4"/><circle cx="285.1" cy="1362.7" r="4"/><circle cx="202.9" cy="1366.7" r="4"/><circle cx="208.3" cy="1368.3" r="4"/><circle cx="211.8" cy="1367.6" r="4"/><circle cx="218.4" cy="1368.7" r="4"/><circle cx="223.2" cy="1367.9" r="4"/><circle cx="229.8" cy="1368.4" r="4"/><circle cx="235.4" cy="1367.6" r="4"/><circle cx="240.1" cy="1367.0" r="4"/><circle cx="245.6" cy="1368.5" r="4"/><circle cx="250.8" cy="1368.3" r="4"/><circle cx="255.2" cy="1368.7" r="4"/><circle cx="262.5" cy="1368.9" r="4"/><circle cx="266.8" cy="1368.4" r="4"/><circle cx="271.7" cy="1368.7" r="4"/><circle cx="278.4" cy="1367.4" r="4"/><circle cx="204.2" cy="1373.1" r="4"/><circle cx="209.1" cy="1371.6" r="4"/><circle cx="215.4" cy="1372.9" r="4"/><circle cx="221.6" cy="1372.9" r="4"/><circle cx="227.3" cy="1372.4" r="4"/><circle cx="232.7" cy="1371.4" r="4"/><circle cx="236.3" cy="1372.5" r="4"/><circle cx="241.9" cy="1373.0" r="4"/><circle cx="248.1" cy="1372.5" r="4"/><circle cx="254.0" cy="1372.6" r="4"/><circle cx="258.1" cy="1372.1" r="4"/><circle cx="264.8" cy="1373.4" r="4"/><circle cx="268.7" cy="1373.3" r="4"/><circle cx="275.9" cy="1372.5" r="4"/><circle cx="285.7" cy="1372.4" r="4"/><circle cx="202.1" cy="1377.1" r="4"/><circle cx="207.8" cy="1376.0" r="4"/><circle cx="212.8" cy="1376.9" r="4"/><circle cx="219.2" cy="1378.1" r="4"/><circle cx="222.9" cy="1377.0" r="4"/><circle cx="228.0" cy="1376.9" r="4"/><circle cx="235.1" cy="1378.0" r="4"/><circle cx="239.6" cy="1376.6" r="4"/><circle cx="244.4" cy="1377.4" r="4"/><circle cx="251.5" cy="1376.2" r="4"/><circle cx="256.6" cy="1375.9" r="4"/><circle cx="260.6" cy="1376.4" r="4"/><circle cx="267.1" cy="1376.7" r="4"/><circle cx="271.8" cy="1377.4" r="4"/><circle cx="282.0" cy="1377.1" r="4"/><circle cx="199.3" cy="1380.9" r="4"/><circle cx="203.9" cy="1382.1" r="4"/><circle cx="210.3" cy="1381.8" r="4"/><circle cx="216.2" cy="1382.0" r="4"/><circle cx="226.8" cy="1382.5" r="4"/><circle cx="232.6" cy="1381.3" r="4"/><circle cx="236.6" cy="1382.8" r="4"/><circle cx="241.7" cy="1383.0" r="4"/><circle cx="248.7" cy="1380.9" r="4"/><circle cx="252.6" cy="1382.3" r="4"/><circle cx="258.0" cy="1380.8" r="4"/><circle cx="264.8" cy="1381.6" r="4"/><circle cx="270.1" cy="1380.9" r="4"/><circle cx="274.6" cy="1382.2" r="4"/><circle cx="279.0" cy="1381.0" r="4"/><circle cx="286.0" cy="1382.8" r="4"/><circle cx="196.5" cy="1386.9" r="4"/><circle cx="201.2" cy="1385.4" r="4"/><circle cx="206.4" cy="1385.3" r="4"/><circle cx="212.8" cy="1386.5" r="4"/><circle cx="229.7" cy="1387.6" r="4"/><circle cx="235.3" cy="1385.5" r="4"/><circle cx="238.6" cy="1387.5" r="4"/><circle cx="245.0" cy="1387.1" r="4"/><circle cx="250.1" cy="1386.4" r="4"/><circle cx="255.9" cy="1386.3" r="4"/><circle cx="261.5" cy="1385.3" r="4"/><circle cx="282.2" cy="1385.6" r="4"/><circle cx="189.3" cy="1391.8" r="4"/><circle cx="194.3" cy="1392.0" r="4"/><circle cx="199.5" cy="1390.9" r="4"/><circle cx="204.8" cy="1391.1" r="4"/><circle cx="211.2" cy="1391.8" r="4"/><circle cx="214.8" cy="1392.1" r="4"/><circle cx="221.4" cy="1391.8" r="4"/><circle cx="227.0" cy="1390.9" r="4"/><circle cx="232.6" cy="1392.0" r="4"/><circle cx="237.5" cy="1391.8" r="4"/><circle cx="243.0" cy="1390.9" r="4"/><circle cx="248.3" cy="1390.1" r="4"/><circle cx="252.8" cy="1391.0" r="4"/><circle cx="257.4" cy="1390.8" r="4"/><circle cx="264.3" cy="1391.4" r="4"/><circle cx="285.7" cy="1390.9" r="4"/><circle cx="186.9" cy="1396.1" r="4"/><circle cx="191.6" cy="1396.4" r="4"/><circle cx="197.7" cy="1394.6" r="4"/><circle cx="202.2" cy="1396.4" r="4"/><circle cx="206.7" cy="1395.6" r="4"/><circle cx="211.6" cy="1395.1" r="4"/><circle cx="217.8" cy="1394.8" r="4"/><circle cx="222.9" cy="1396.8" r="4"/><circle cx="229.0" cy="1395.8" r="4"/><circle cx="235.4" cy="1396.0" r="4"/><circle cx="240.9" cy="1396.1" r="4"/><circle cx="245.8" cy="1394.8" r="4"/><circle cx="250.7" cy="1396.4" r="4"/><circle cx="254.8" cy="1396.8" r="4"/><circle cx="260.5" cy="1395.7" r="4"/><circle cx="265.9" cy="1395.8" r="4"/><circle cx="283.0" cy="1396.0" r="4"/><circle cx="188.8" cy="1400.6" r="4"/><circle cx="193.3" cy="1401.0" r="4"/><circle cx="198.7" cy="1399.3" r="4"/><circle cx="204.0" cy="1399.4" r="4"/><circle cx="209.2" cy="1401.1" r="4"/><circle cx="215.1" cy="1401.4" r="4"/><circle cx="221.4" cy="1399.4" r="4"/><circle cx="227.4" cy="1401.5" r="4"/><circle cx="243.5" cy="1399.9" r="4"/><circle cx="247.9" cy="1401.5" r="4"/><circle cx="253.7" cy="1400.4" r="4"/><circle cx="259.7" cy="1401.2" r="4"/><circle cx="264.2" cy="1399.5" r="4"/><circle cx="269.7" cy="1400.4" r="4"/><circle cx="274.1" cy="1399.4" r="4"/><circle cx="285.5" cy="1400.9" r="4"/><circle cx="191.3" cy="1405.0" r="4"/><circle cx="197.2" cy="1405.2" r="4"/><circle cx="203.1" cy="1406.2" r="4"/><circle cx="207.9" cy="1404.5" r="4"/><circle cx="211.8" cy="1406.1" r="4"/><circle cx="218.8" cy="1405.4" r="4"/><circle cx="223.2" cy="1404.6" r="4"/><circle cx="240.3" cy="1404.4" r="4"/><circle cx="244.5" cy="1406.3" r="4"/><circle cx="251.5" cy="1406.1" r="4"/><circle cx="254.8" cy="1404.1" r="4"/><circle cx="260.8" cy="1405.0" r="4"/><circle cx="267.0" cy="1404.2" r="4"/><circle cx="272.2" cy="1404.1" r="4"/><circle cx="283.0" cy="1405.5" r="4"/><circle cx="198.2" cy="1408.9" r="4"/><circle cx="205.3" cy="1410.1" r="4"/><circle cx="210.6" cy="1409.1" r="4"/><circle cx="215.2" cy="1409.2" r="4"/><circle cx="221.5" cy="1409.5" r="4"/><circle cx="226.6" cy="1411.0" r="4"/><circle cx="231.2" cy="1409.9" r="4"/><circle cx="237.6" cy="1410.8" r="4"/><circle cx="242.2" cy="1409.5" r="4"/><circle cx="246.8" cy="1410.7" r="4"/><circle cx="252.2" cy="1408.8" r="4"/><circle cx="270.1" cy="1408.8" r="4"/><circle cx="274.1" cy="1410.2" r="4"/><circle cx="213.7" cy="1414.3" r="4"/><circle cx="218.8" cy="1414.0" r="4"/><circle cx="223.1" cy="1414.3" r="4"/><circle cx="229.9" cy="1415.4" r="4"/><circle cx="233.7" cy="1414.2" r="4"/><circle cx="239.4" cy="1414.2" r="4"/><circle cx="244.8" cy="1414.2" r="4"/><circle cx="249.8" cy="1414.7" r="4"/><circle cx="256.6" cy="1414.6" r="4"/><circle cx="273.0" cy="1414.0" r="4"/><circle cx="276.4" cy="1414.5" r="4"/><circle cx="221.2" cy="1418.6" r="4"/><circle cx="231.7" cy="1419.8" r="4"/><circle cx="236.7" cy="1418.8" r="4"/><circle cx="264.8" cy="1419.6" r="4"/><circle cx="274.2" cy="1359.0" r="4"/><circle cx="266.6" cy="1365.0" r="4"/><circle cx="262.4" cy="1361.7" r="4"/><circle cx="262.4" cy="1356.3" r="4"/><circle cx="266.6" cy="1353.0" r="4"/><circle cx="271.9" cy="1354.2" r="4"/><circle cx="217.2" cy="1386.8" r="4"/><circle cx="222.9" cy="1380.6" r="4"/><circle cx="271.9" cy="1396.3" r="4"/><circle cx="268.6" cy="1385.5" r="4"/><circle cx="265.1" cy="1416.9" r="4"/><circle cx="260.1" cy="1416.5" r="4"/><circle cx="258.8" cy="1407.5" r="4"/><circle cx="263.5" cy="1405.7" r="4"/><circle cx="268.5" cy="1413.2" r="4"/><circle cx="228.7" cy="1406.5" r="4"/><circle cx="229.9" cy="1398.5" r="4"/><circle cx="237.5" cy="1401.5" r="4"/><circle cx="236.8" cy="1405.9" r="4"/><circle cx="244.4" cy="1347.7" r="4"/><circle cx="253.8" cy="1349.9" r="4"/><circle cx="315.0" cy="1322.3" r="4"/><circle cx="328.8" cy="1325.8" r="4"/><circle cx="332.3" cy="1332.9" r="4"/><circle cx="295.6" cy="1341.4" r="4"/><circle cx="302.6" cy="1343.7" r="4"/><circle cx="327.7" cy="1342.7" r="4"/><circle cx="290.5" cy="1347.3" r="4"/><circle cx="301.4" cy="1348.5" r="4"/><circle cx="308.5" cy="1350.8" r="4"/><circle cx="330.0" cy="1349.9" r="4"/><circle cx="314.1" cy="1355.9" r="4"/><circle cx="277.0" cy="1360.6" r="4"/><circle cx="312.9" cy="1368.4" r="4"/><circle cx="326.0" cy="1372.1" r="4"/><circle cx="307.3" cy="1377.6" r="4"/><circle cx="304.6" cy="1384.9" r="4"/><circle cx="310.4" cy="1383.4" r="4"/><circle cx="326.3" cy="1382.6" r="4"/><circle cx="293.4" cy="1390.7" r="4"/><circle cx="299.7" cy="1391.7" r="4"/><circle cx="309.1" cy="1392.6" r="4"/><circle cx="315.5" cy="1390.2" r="4"/><circle cx="288.1" cy="1398.6" r="4"/><circle cx="293.2" cy="1397.3" r="4"/><circle cx="310.0" cy="1397.5" r="4"/><circle cx="320.1" cy="1399.5" r="4"/><circle cx="290.7" cy="1405.2" r="4"/><circle cx="297.9" cy="1406.2" r="4"/><circle cx="317.0" cy="1406.8" r="4"/><circle cx="277.1" cy="1411.1" r="4"/><circle cx="287.7" cy="1413.3" r="4"/>
</g>
<g class="rd">
<circle cx="346.9" cy="1109.5" r="4"/><circle cx="549.8" cy="1132.6" r="4"/><circle cx="867.7" cy="1102.1" r="4"/><circle cx="531.8" cy="1309.5" r="4"/><circle cx="582.2" cy="1340.4" r="4"/><circle cx="375.8" cy="1175.4" r="4"/><circle cx="291.4" cy="1243.8" r="4"/><circle cx="344.4" cy="1240.8" r="4"/><circle cx="249.2" cy="1283.2" r="4"/><circle cx="223.5" cy="1305.0" r="4"/><circle cx="241.0" cy="1314.5" r="4"/><circle cx="191.2" cy="1342.0" r="4"/><circle cx="245.0" cy="1340.0" r="4"/><circle cx="231.0" cy="1345.0" r="4"/><circle cx="240.5" cy="1355.0" r="4"/><circle cx="240.5" cy="1360.0" r="4"/><circle cx="264.0" cy="1353.5" r="4"/><circle cx="260.0" cy="1362.0" r="4"/><circle cx="252.0" cy="1363.5" r="4"/><circle cx="220.0" cy="1359.5" r="4"/><circle cx="214.5" cy="1361.5" r="4"/><circle cx="229.0" cy="1367.5" r="4"/><circle cx="253.5" cy="1376.5" r="4"/><circle cx="253.0" cy="1384.0" r="4"/><circle cx="215.0" cy="1383.5" r="4"/><circle cx="197.0" cy="1388.0" r="4"/><circle cx="200.0" cy="1391.0" r="4"/><circle cx="230.0" cy="1390.0" r="4"/><circle cx="185.0" cy="1393.0" r="4"/><circle cx="244.0" cy="1395.0" r="4"/><circle cx="260.0" cy="1395.0" r="4"/><circle cx="220.0" cy="1397.0" r="4"/><circle cx="216.0" cy="1402.0" r="4"/><circle cx="227.0" cy="1402.5" r="4"/><circle cx="208.0" cy="1406.5" r="4"/><circle cx="186.0" cy="1407.0" r="4"/><circle cx="194.0" cy="1405.5" r="4"/><circle cx="246.0" cy="1403.0" r="4"/><circle cx="258.0" cy="1405.5" r="4"/><circle cx="265.0" cy="1405.5" r="4"/><circle cx="272.0" cy="1404.0" r="4"/><circle cx="215.0" cy="1415.0" r="4"/><circle cx="188.0" cy="1399.0" r="4"/><circle cx="153.5" cy="1437.5" r="4"/><circle cx="382.5" cy="1298.5" r="4"/><circle cx="337.5" cy="1308.5" r="4"/><circle cx="343.5" cy="1339.0" r="4"/><circle cx="342.0" cy="1354.5" r="4"/><circle cx="393.0" cy="1347.0" r="4"/><circle cx="279.0" cy="1363.0" r="4"/><circle cx="329.0" cy="1372.5" r="4"/><circle cx="359.0" cy="1368.5" r="4"/><circle cx="374.0" cy="1374.0" r="4"/><circle cx="312.0" cy="1389.0" r="4"/><circle cx="315.0" cy="1393.0" r="4"/><circle cx="290.0" cy="1393.0" r="4"/><circle cx="397.5" cy="1386.5" r="4"/><circle cx="409.8" cy="1316.7" r="4"/><circle cx="457.5" cy="1329.5" r="4"/><circle cx="430.3" cy="1345.0" r="4"/><circle cx="415.5" cy="1365.5" r="4"/><circle cx="288.5" cy="1402.0" r="4"/><circle cx="315.0" cy="1403.0" r="4"/><circle cx="388.0" cy="1418.5" r="4"/><circle cx="275.0" cy="1404.0" r="4"/><circle cx="425.0" cy="1402.0" r="4"/>
</g>
<text transform="translate(283,920) rotate(-74)" font-size="38.5" stroke="#000" stroke-width="0.5" text-anchor="start" textLength="172" lengthAdjust="spacingAndGlyphs">dN/dS = 1</text>
<text transform="translate(979.5,1080.6) rotate(-17.6)" font-size="38.5" stroke="#000" stroke-width="0.5" text-anchor="start" textLength="205" lengthAdjust="spacingAndGlyphs">dN/dS = 0.1</text>
</g>
</svg>
</body>
</html>
